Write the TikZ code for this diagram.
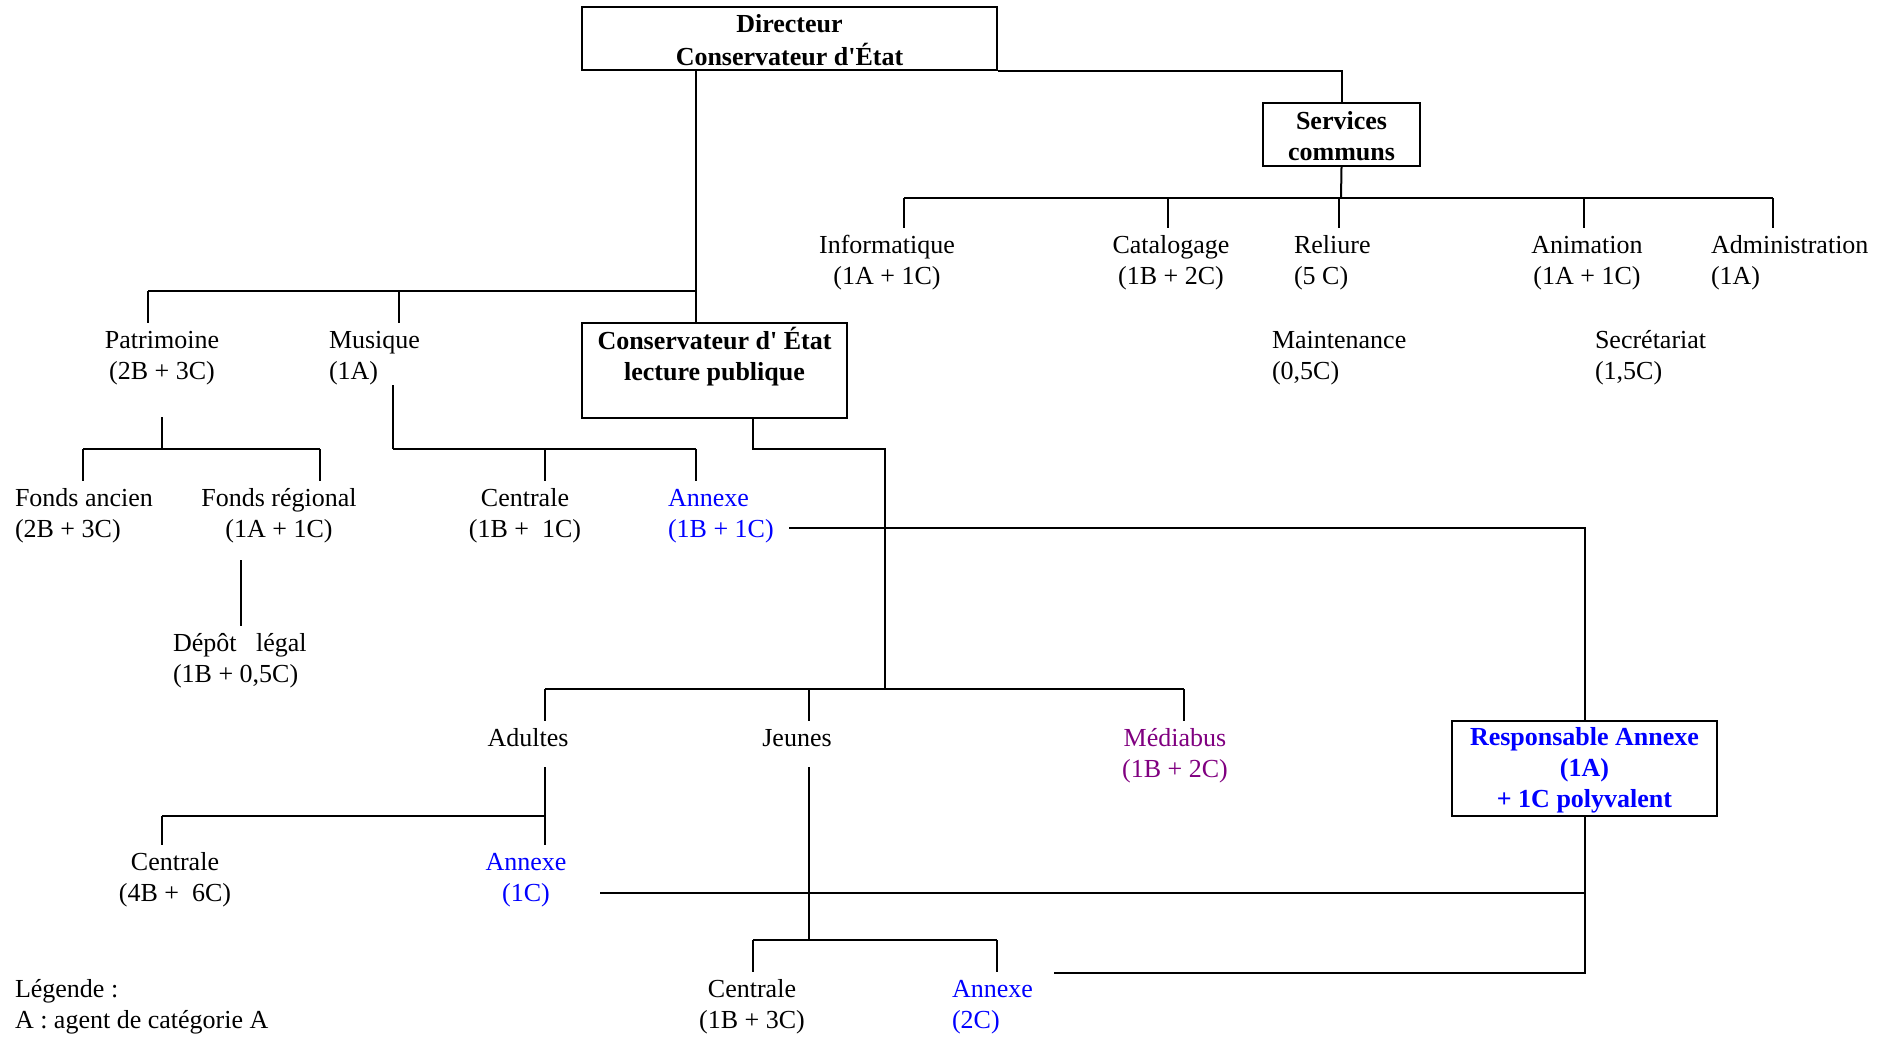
\documentclass[tikz,border=0pt]{standalone}
\usepackage{fontspec}
\setmainfont{Liberation Serif}
\usepackage{xcolor}
\usepackage{tikz}
\definecolor{annexeblue}{RGB}{0,0,255}
\definecolor{mediapurple}{RGB}{128,0,128}
\newcommand{\hstrut}{\rule{0pt}{12.85pt}}
\newcommand{\dstrut}{\rule[-2.65pt]{0pt}{2.65pt}}
\tikzset{
  txt/.style={font=\fontsize{13}{15.5}\selectfont},
  chef/.style={draw, line width=1.2pt, inner sep=0pt, align=center, font=\fontsize{13}{15.5}\selectfont\bfseries},
  lbl/.style={txt, inner xsep=0pt, inner ysep=1.75pt, outer sep=0pt, align=center, anchor=north},
  lbll/.style={lbl, align=left, anchor=north west},
  annexe/.style={text=annexeblue},
  media/.style={text=mediapurple},
}

\begin{document}
\begin{tikzpicture}[x=0.5pt, y=-0.5pt, line width=1pt]
  \useasboundingbox (0,0) rectangle (1895,1038);

  % encadres
  \node[chef, minimum width=207.5pt, minimum height=31.5pt] (dir) at (789.5,38.5) {\strut Directeur\\Conservateur d\textquotesingle État};
  \node[chef, minimum width=78.5pt, minimum height=31.5pt] (serv) at (1341.5,134.5) {\strut Services\\communs};
  \node[chef, minimum width=132.5pt, minimum height=47.5pt] (cons) at (714.5,370.5) {\hstrut Conservateur d\textquotesingle{} État\\lecture publique\\\dstrut};
  \node[chef, annexe, minimum width=132.5pt, minimum height=47.5pt] (resp) at (1584.5,768.5) {\strut Responsable Annexe\\(1A)\\+ 1C polyvalent};

  % services communs
  \node[lbl] (info) at (887,228) {\strut Informatique\\(1A + 1C)};
  \node[lbl] (catal) at (1171,228) {\strut Catalogage\\(1B + 2C)};
  \node[lbll] (reliure) at (1294,228) {\strut Reliure\\(5 C)};
  \node[lbl] (anim) at (1587,228) {\strut Animation\\(1A + 1C)};
  \node[lbll] (admin) at (1711,228) {\strut Administration\\(1A)};
  \node[lbll] (maint) at (1272,323) {\strut Maintenance\\(0,5C)};
  \node[lbll] (secr) at (1595,323) {\strut Secrétariat\\(1,5C)};

  % patrimoine, musique
  \node[lbl] (patri) at (162,323) {\strut Patrimoine\\(2B + 3C)};
  \node[lbll] (musique) at (329,323) {\strut Musique\\(1A)};
  \node[lbll] (fondsanc) at (15,481) {\strut Fonds ancien\\(2B + 3C)};
  \node[lbl] (fondsreg) at (279,481) {\strut Fonds régional\\(1A + 1C)};
  \node[lbll] (depot) at (173,626) {\strut Dépôt~~~légal\\(1B + 0,5C)};
  \node[lbl] (centm) at (525,481) {\strut Centrale\\(1B +~ 1C)};
  \node[lbll, annexe] (annm) at (668,481) {\strut Annexe\\(1B + 1C)};

  % lecture publique
  \node[lbl] (adultes) at (528,721) {\strut Adultes};
  \node[lbl] (jeunes) at (797,721) {\strut Jeunes};
  \node[lbl, media] (mediabus) at (1175,721) {\strut Médiabus\\(1B + 2C)};
  \node[lbl] (centa) at (175,845) {\strut Centrale\\(4B +~ 6C)};
  \node[lbl, annexe] (anna) at (526,845) {\strut Annexe\\(1C)};
  \node[lbl] (centj) at (752,972) {\strut Centrale\\(1B + 3C)};
  \node[lbll, annexe] (annj) at (952,972) {\strut Annexe\\(2C)};
  \node[lbll] (legende) at (15,972) {\strut Légende :\\A : agent de catégorie A};

  % points de raccord
  \coordinate (trunk) at (696,291);
  \coordinate (bpat) at (148,291);
  \coordinate (bmus) at (399,291);
  \coordinate (bsv) at (1341,198);
  \coordinate (bi) at (904,198);
  \coordinate (bc) at (1168,198);
  \coordinate (br) at (1339,198);
  \coordinate (ban) at (1584,198);
  \coordinate (bad) at (1773,198);
  \coordinate (bpat2) at (162,449);
  \coordinate (bfa) at (83,449);
  \coordinate (bfr) at (320,449);
  \coordinate (bdep) at (241,560);
  \coordinate (bmus2) at (393,449);
  \coordinate (bcm) at (545,449);
  \coordinate (bam) at (696,449);
  \coordinate (bcons) at (753,449);
  \coordinate (bcons2) at (885,449);
  \coordinate (blp) at (885,689);
  \coordinate (bal) at (545,689);
  \coordinate (bj) at (809,689);
  \coordinate (bmb) at (1184,689);
  \coordinate (annmR) at (789,528);
  \coordinate (badu) at (545,816);
  \coordinate (bca) at (162,816);
  \coordinate (bjeu) at (809,940);
  \coordinate (bcj) at (753,940);
  \coordinate (baj) at (997,940);
  \coordinate (annaR) at (600,893);
  \coordinate (annjR) at (1054,973);

  % liaisons
  \draw (trunk |- dir.south) -- (trunk |- cons.north);
  \draw (bpat) -- (trunk);
  \draw (bpat) -- (bpat |- patri.north);
  \draw (bmus) -- (bmus |- musique.north);
  \draw (dir.south east) -| (serv.north);
  \draw (serv.south) -- (bsv);
  \draw (bi) -- (bad);
  \foreach \b/\n in {bi/info, bc/catal, br/reliure, ban/anim, bad/admin}
    \draw (\b) -- (\b |- \n.north);

  \draw (bpat2) -- ++(0,-32);
  \draw (bfa) -- (bfr);
  \draw (bfa) -- (bfa |- fondsanc.north);
  \draw (bfr) -- (bfr |- fondsreg.north);
  \draw (bdep) -- (bdep |- depot.north);
  \draw (bmus2) -- ++(0,-64);
  \draw (bmus2) -- (bam);
  \draw (bcm) -- (bcm |- centm.north);
  \draw (bam) -- (bam |- annm.north);

  \draw (bcons |- cons.south) -- (bcons) -- (bcons2) -- (blp);
  \draw (bal) -- (bmb);
  \foreach \b/\n in {bal/adultes, bj/jeunes, bmb/mediabus}
    \draw (\b) -- (\b |- \n.north);
  \draw (badu) -- ++(0,-49);
  \draw (bca) -- (badu) -- (badu |- anna.north);
  \draw (bca) -- (bca |- centa.north);
  \draw (bjeu) -- ++(0,-173);
  \draw (bcj) -- (baj);
  \draw (bcj) -- (bcj |- centj.north);
  \draw (baj) -- (baj |- annj.north);

  \draw (annmR) -| (resp.north);
  \draw (resp.south) |- (annaR);
  \draw (resp.south) |- (annjR);
\end{tikzpicture}
\end{document}
